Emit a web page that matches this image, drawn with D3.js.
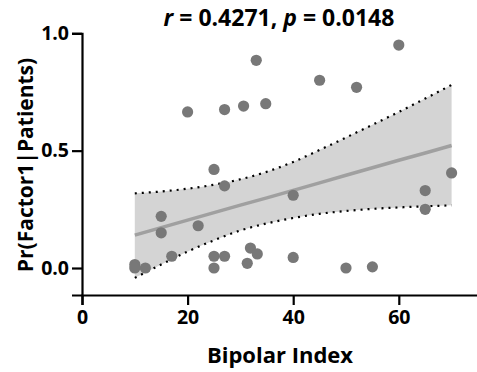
<!DOCTYPE html>
<html>
<head>
<meta charset="utf-8">
<script src="https://cdn.jsdelivr.net/npm/d3@7"></script>
<style>
  html, body { margin: 0; padding: 0; background: #fff; }
  text { font-family: "Open Sans", "Noto Sans", sans-serif; font-weight: 700; }
</style>
</head>
<body>
<div id="chart"></div>
<script>
// scatter points (Bipolar Index, Pr(Factor1|Patients))
const bipolarIndex = [10, 10, 12, 15, 15, 17, 20, 22, 25, 25, 25, 27, 27, 27, 30.6,
  31.3, 31.9, 33, 33.2, 34.8, 40, 40, 45, 50, 52, 55, 60, 65, 65, 70];
const prFactor1 = [0.015, 0.0, 0.0, 0.22, 0.15, 0.05, 0.665, 0.18, 0.42, 0.05, 0.0, 0.675, 0.35, 0.05, 0.69,
  0.02, 0.085, 0.885, 0.06, 0.70, 0.31, 0.045, 0.80, 0.0, 0.77, 0.005, 0.95, 0.33, 0.25, 0.405];

// fitted line and 95% band, read along x
const fitX = [10, 15, 20, 25, 30, 35, 40, 45, 50, 55, 60, 65, 70];
const fitY = [0.14, 0.172, 0.204, 0.236, 0.268, 0.299, 0.331, 0.363, 0.395, 0.427, 0.459, 0.49, 0.522];
const bandUpper = [0.318, 0.326, 0.338, 0.355, 0.378, 0.41, 0.452, 0.503, 0.556, 0.61, 0.665, 0.722, 0.78];
const bandLower = [-0.042, 0.015, 0.07, 0.118, 0.16, 0.19, 0.213, 0.231, 0.243, 0.252, 0.258, 0.263, 0.267];

const xTicks = [0, 20, 40, 60];
const yTicks = [0, 0.5, 1.0];

const width = 477, height = 372;
const svg = d3.select("#chart").append("svg")
  .attr("width", width).attr("height", height)
  .attr("viewBox", [0, 0, width, height]);

const xScale = d3.scaleLinear().domain([0, 75]).range([82, 478]);
const yScale = d3.scaleLinear().domain([-0.115, 1]).range([295, 33.3]);

// confidence band
const area = d3.area()
  .x((d) => xScale(d.x))
  .y0((d) => yScale(d.lo))
  .y1((d) => yScale(d.hi))
  .curve(d3.curveMonotoneX);
const bandData = fitX.map((x, i) => ({ x, lo: bandLower[i], hi: bandUpper[i], y: fitY[i] }));

svg.append("path")
  .datum(bandData)
  .attr("d", area)
  .attr("fill", "#d4d4d4");

// dotted band edges
["hi", "lo"].forEach((key) => {
  svg.append("path")
    .datum(bandData)
    .attr("d", d3.line().x((d) => xScale(d.x)).y((d) => yScale(d[key])).curve(d3.curveMonotoneX))
    .attr("fill", "none")
    .attr("stroke", "#000")
    .attr("stroke-width", 2.2)
    .attr("stroke-dasharray", "2 5");
});

// regression line
svg.append("path")
  .datum(bandData)
  .attr("d", d3.line().x((d) => xScale(d.x)).y((d) => yScale(d.y)))
  .attr("fill", "none")
  .attr("stroke", "#a0a0a0")
  .attr("stroke-width", 3.5);

// points
svg.append("g")
  .selectAll("circle")
  .data(bipolarIndex)
  .join("circle")
  .attr("cx", (d) => xScale(d))
  .attr("cy", (d, i) => yScale(prFactor1[i]))
  .attr("r", 5.6)
  .attr("fill", "#787878");

// axes
const xAxis = svg.append("g")
  .attr("transform", `translate(0,${yScale.range()[0]})`)
  .call(d3.axisBottom(xScale).tickValues(xTicks).tickSizeOuter(0).tickSize(10).tickPadding(5));
const yAxis = svg.append("g")
  .attr("transform", `translate(${xScale(0)},0)`)
  .call(d3.axisLeft(yScale).tickValues(yTicks).tickFormat(d3.format(".1f")).tickSizeOuter(0).tickSize(10).tickPadding(3));

[xAxis, yAxis].forEach((g) => {
  g.select(".domain").attr("stroke-width", 2.2);
  g.selectAll(".tick line").attr("stroke-width", 2.2);
  g.selectAll(".tick text")
    .attr("font-family", "'Open Sans', sans-serif")
    .attr("font-weight", 700)
    .attr("font-size", 19.5)
    .attr("fill", "#000");
});

// axis titles
svg.append("text")
  .attr("x", 280).attr("y", 363)
  .attr("text-anchor", "middle")
  .attr("font-size", 22)
  .text("Bipolar Index");

svg.append("text")
  .attr("transform", "translate(33,165) rotate(-90)")
  .attr("text-anchor", "middle")
  .attr("font-size", 21)
  .text("Pr(Factor1|Patients)");

// title
const title = svg.append("text")
  .attr("x", 279).attr("y", 26)
  .attr("text-anchor", "middle")
  .attr("font-size", 23);
title.append("tspan").attr("font-style", "italic").text("r");
title.append("tspan").text(" = 0.4271, ");
title.append("tspan").attr("font-style", "italic").text("p");
title.append("tspan").text(" = 0.0148");
</script>
</body>
</html>
